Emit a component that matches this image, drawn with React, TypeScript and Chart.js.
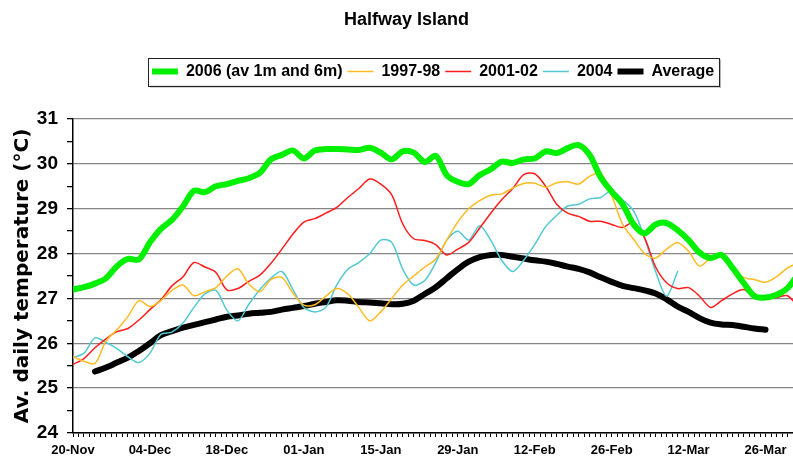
import React, { useEffect, useRef } from 'react';
import { Chart, registerables } from 'chart.js';

Chart.register(...registerables);

const SAMPLE_STEP = 2;
const X_MAX_DAY = 131;
const TICK_EVERY = 14;
const TICK_LABELS = ['20-Nov', '04-Dec', '18-Dec', '01-Jan', '15-Jan', '29-Jan', '12-Feb', '26-Feb', '12-Mar', '26-Mar'];
const Y_MIN = 24;
const Y_MAX = 31;

const SERIES_NAMES = ['2006 (av 1m and 6m)', '1997-98', '2001-02', '2004', 'Average'];

const GREEN_START = 0;
const GREEN_2006 = [27.2, 27.25, 27.33, 27.45, 27.72, 27.88, 27.87, 28.25, 28.55, 28.75, 29.05, 29.4, 29.37, 29.5, 29.55, 29.62, 29.68, 29.8, 30.1, 30.2, 30.3, 30.12, 30.3, 30.33, 30.33, 30.32, 30.31, 30.36, 30.25, 30.1, 30.28, 30.25, 30.04, 30.18, 29.75, 29.6, 29.55, 29.75, 29.88, 30.05, 30.02, 30.1, 30.12, 30.28, 30.24, 30.35, 30.42, 30.2, 29.7, 29.38, 29.1, 28.65, 28.45, 28.65, 28.68, 28.52, 28.3, 28.02, 27.9, 27.97, 27.68, 27.35, 27.05, 27.02, 27.08, 27.23, 27.55];

const ORANGE_START = 0;
const ORANGE_1997 = [25.7, 25.6, 25.55, 26.05, 26.3, 26.6, 26.95, 26.82, 26.95, 27.18, 27.3, 27.06, 27.15, 27.24, 27.5, 27.66, 27.32, 27.15, 27.42, 27.47, 27.12, 26.85, 26.86, 27.05, 27.22, 27.1, 26.8, 26.5, 26.7, 27.0, 27.3, 27.5, 27.7, 27.88, 28.3, 28.7, 29.0, 29.18, 29.3, 29.33, 29.46, 29.56, 29.57, 29.48, 29.58, 29.6, 29.55, 29.72, 29.8, 29.3, 28.65, 28.32, 28.0, 27.9, 28.1, 28.24, 28.05, 27.72, 27.9, 27.96, 27.7, 27.47, 27.42, 27.36, 27.48, 27.68, 27.8];

const RED_START = 0;
const RED_2001 = [25.53, 25.66, 25.9, 26.1, 26.26, 26.33, 26.52, 26.75, 26.97, 27.28, 27.48, 27.8, 27.7, 27.58, 27.19, 27.22, 27.38, 27.52, 27.78, 28.1, 28.43, 28.7, 28.78, 28.9, 29.03, 29.25, 29.45, 29.66, 29.55, 29.31, 28.66, 28.33, 28.29, 28.2, 27.97, 28.1, 28.25, 28.57, 28.9, 29.2, 29.45, 29.76, 29.78, 29.5, 29.1, 28.9, 28.83, 28.72, 28.72, 28.65, 28.58, 28.7, 28.35, 27.7, 27.35, 27.22, 27.24, 27.05, 26.8, 26.95, 27.1, 27.2, 27.02, 27.0, 27.02, 27.06, 26.8];

const CYAN_START = 0;
const CYAN_2004 = [25.68, 25.78, 26.12, 26.02, 25.88, 25.7, 25.57, 25.78, 26.2, 26.25, 26.45, 26.8, 27.1, 27.18, 26.74, 26.5, 26.87, 27.2, 27.45, 27.6, 27.2, 26.8, 26.7, 26.8, 27.3, 27.65, 27.8, 28.0, 28.3, 28.25, 27.65, 27.3, 27.4, 27.8, 28.3, 28.5, 28.3, 28.62, 28.3, 27.85, 27.6, 27.85, 28.2, 28.6, 28.85, 29.06, 29.1, 29.22, 29.25, 29.4, 29.2, 28.95, 28.35, 27.6, 27.05, 27.6];

const BLACK_START = 4;
const BLACK_AVERAGE = [25.37, 25.46, 25.57, 25.68, 25.83, 26.0, 26.18, 26.27, 26.35, 26.41, 26.47, 26.53, 26.59, 26.62, 26.66, 26.68, 26.7, 26.75, 26.79, 26.83, 26.88, 26.92, 26.96, 26.95, 26.92, 26.91, 26.89, 26.87, 26.88, 26.95, 27.1, 27.25, 27.45, 27.65, 27.82, 27.92, 27.97, 27.97, 27.93, 27.89, 27.85, 27.82, 27.77, 27.71, 27.66, 27.58, 27.47, 27.37, 27.28, 27.23, 27.18, 27.11, 26.98, 26.82, 26.7, 26.56, 26.46, 26.42, 26.41, 26.37, 26.33, 26.3];

const SANS = "'Liberation Sans', Arial, sans-serif";
const WIDE = "'DejaVu Sans', Verdana, sans-serif";

const toPoints = (vals: number[], start: number) =>
  vals.map((y, i) => ({ x: start + i * SAMPLE_STEP, y }));

const legendFrame = {
  id: 'legendFrame',
  afterDraw(chart: any) {
    const lg = chart.legend;
    if (!lg || !lg.legendHitBoxes || !lg.legendHitBoxes.length) return;
    const hb = lg.legendHitBoxes;
    const left = Math.min(...hb.map((h: any) => h.left)) - 4;
    const right = Math.max(...hb.map((h: any) => h.left + h.width)) + 5;
    const top = hb[0].top - 6;
    const bottom = hb[0].top + hb[0].height + 6;
    const ctx = chart.ctx;
    ctx.save();
    ctx.fillStyle = '#b5b5b5';
    ctx.fillRect(left + 2, bottom, right - left, 2);
    ctx.fillRect(right, top + 2, 2, bottom - top);
    ctx.strokeStyle = '#222';
    ctx.lineWidth = 1;
    ctx.strokeRect(Math.round(left) + 0.5, Math.round(top) + 0.5, Math.round(right - left), Math.round(bottom - top));
    ctx.restore();
  },
};

export default function App() {
  const ref = useRef<HTMLCanvasElement | null>(null);

  useEffect(() => {
    if (!ref.current) return;
    const mk = (label: string, data: any[], color: string, width: number, tension: number) => ({
      label,
      data,
      borderColor: color,
      backgroundColor: color,
      borderWidth: width,
      borderCapStyle: 'round' as const,
      borderJoinStyle: 'round' as const,
      pointRadius: 0,
      pointHoverRadius: 0,
      tension,
      fill: false,
    });

    const chart = new Chart(ref.current, {
      type: 'line',
      data: {
        datasets: [
          mk(SERIES_NAMES[0], toPoints(GREEN_2006, GREEN_START), '#00f000', 6, 0.3),
          mk(SERIES_NAMES[1], toPoints(ORANGE_1997, ORANGE_START), '#ffbb22', 1.5, 0.3),
          mk(SERIES_NAMES[2], toPoints(RED_2001, RED_START), '#ff1c1c', 1.5, 0.3),
          mk(SERIES_NAMES[3], toPoints(CYAN_2004, CYAN_START), '#52c8d2', 1.5, 0.3),
          mk(SERIES_NAMES[4], toPoints(BLACK_AVERAGE, BLACK_START), '#000000', 6, 0.4),
        ],
      },
      options: {
        animation: false,
        responsive: true,
        maintainAspectRatio: false,
        layout: { padding: { left: 20, right: 0, top: 0, bottom: 0 } },
        plugins: {
          title: {
            display: true,
            text: 'Halfway Island',
            color: '#000',
            font: { family: SANS, size: 18, weight: 'bold' },
            padding: { top: 9, bottom: 28 },
          },
          subtitle: {
            display: true,
            text: ' ',
            weight: 500,
            font: { size: 10 },
            padding: { top: 17.4, bottom: 0 },
          } as any,
          legend: {
            display: true,
            position: 'top',
            fullSize: false,
            labels: {
              usePointStyle: true,
              pointStyle: 'line',
              pointStyleWidth: 26,
              padding: 5,
              color: '#000',
              font: { family: SANS, size: 16, weight: 'bold' },
            },
          },
          tooltip: { enabled: false },
        },
        scales: {
          x: {
            type: 'linear',
            min: 0,
            max: X_MAX_DAY,
            afterFit: (s: any) => { s.height = 31; s.paddingRight = 0; s.paddingLeft = 0; },
            border: { display: true, color: '#000', width: 1.5 },
            grid: { display: true, drawOnChartArea: false, drawTicks: true, tickLength: 4, color: '#000', lineWidth: 1 },
            ticks: {
              stepSize: 1,
              autoSkip: false,
              maxRotation: 0,
              minRotation: 0,
              padding: 6,
              color: '#000',
              font: { family: SANS, size: 13, weight: 'bold' },
              callback: (v: any) => {
                const n = Number(v);
                if (n % TICK_EVERY !== 0) return '';
                return TICK_LABELS[n / TICK_EVERY] ?? '';
              },
            },
          },
          y: {
            type: 'linear',
            min: Y_MIN,
            max: Y_MAX,
            afterFit: (s: any) => { s.width = 53; },
            border: { display: true, color: '#000', width: 1.5 },
            grid: {
              display: true,
              drawTicks: true,
              tickLength: 6,
              tickColor: '#000',
              lineWidth: 1.3,
              color: (c: any) => (c.tick && Number.isInteger(c.tick.value) ? '#858585' : 'rgba(0,0,0,0)'),
            },
            ticks: {
              stepSize: 0.5,
              autoSkip: false,
              padding: 9,
              color: '#000',
              font: { family: SANS, size: 19, weight: 'bold' },
              callback: (v: any) => (Number.isInteger(Number(v)) ? String(v) : ''),
            },
            title: {
              display: true,
              text: 'Av. daily temperature (°C)',
              color: '#000',
              font: { family: WIDE, size: 20, weight: 'bold' },
              padding: { top: -9, bottom: 0 },
            },
          },
        },
      },
      plugins: [legendFrame],
    });
    return () => chart.destroy();
  }, []);

  return (
    <div style={{ position: 'fixed', left: 0, top: 0, width: 793, height: 464, background: '#fff' }}>
      <canvas ref={ref} />
    </div>
  );
}
